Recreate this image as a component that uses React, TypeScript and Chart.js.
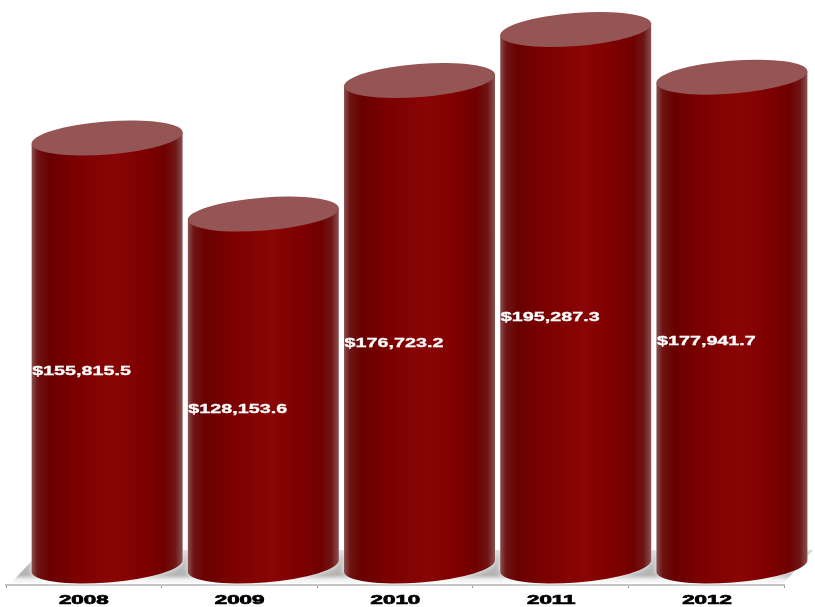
import React, { useEffect, useRef } from "react";
import { Chart, registerables } from "chart.js";

Chart.register(...registerables);

const categories = ["2008", "2009", "2010", "2011", "2012"];
const revenue = [155815.5, 128153.6, 176723.2, 195287.3, 177941.7];
const valueLabels = ["$155,815.5", "$128,153.6", "$176,723.2", "$195,287.3", "$177,941.7"];

const DEPTH_X = 23.3;
const DEPTH_Y = 19;
const FONT = '"Liberation Sans"';

function stretchedText(ctx: CanvasRenderingContext2D, text: string, x: number, y: number, sx: number, size: number, color: string, align: CanvasTextAlign, weight: number) {
  ctx.save();
  ctx.translate(x, y);
  ctx.scale(sx, 1);
  ctx.font = `bold ${size}px ${FONT}`;
  ctx.textAlign = align;
  ctx.textBaseline = "middle";
  ctx.fillStyle = color;
  ctx.strokeStyle = color;
  ctx.lineWidth = weight;
  ctx.strokeText(text, 0, 0);
  ctx.fillText(text, 0, 0);
  ctx.restore();
}

const floorPlugin = {
  id: "floor",
  beforeDatasetsDraw(chart: any) {
    const { ctx, chartArea: a } = chart;
    ctx.save();
    const g = ctx.createLinearGradient(0, a.bottom - 36, 0, a.bottom);
    g.addColorStop(0, "#d8d8d8");
    g.addColorStop(0.25, "#bcbcbc");
    g.addColorStop(0.72, "#b4b4b4");
    g.addColorStop(0.85, "#f0f0f0");
    g.addColorStop(1, "#ffffff");
    ctx.fillStyle = g;
    ctx.beginPath();
    ctx.moveTo(a.left + 5, a.bottom - 2);
    ctx.lineTo(a.right, a.bottom - 2);
    ctx.lineTo(a.right + 29, a.bottom - 35);
    ctx.lineTo(a.left + 36, a.bottom - 35);
    ctx.closePath();
    ctx.fill();
    ctx.restore();
  },
};

const cylinderPlugin = {
  id: "cylinders",
  afterDatasetsDraw(chart: any) {
    const { ctx } = chart;
    const meta = chart.getDatasetMeta(0);
    meta.data.forEach((bar: any, i: number) => {
      const w = bar.width;
      const cx = bar.x + DEPTH_X + i * 0.6;
      const topY = bar.y - DEPTH_Y + 0.5;
      const baseY = bar.base - DEPTH_Y;
      const left = cx - w / 2;
      const right = cx + w / 2;
      const rx = w / 2 + 0.3;
      const ry = 16.5;
      const rot = (-4.5 * Math.PI) / 180;
      const tilt = (w / 2) * Math.sin(rot);

      ctx.save();
      const g = ctx.createLinearGradient(left, 0, right, 0);
      g.addColorStop(0, "#8a5050");
      g.addColorStop(0.04, "#6e1414");
      g.addColorStop(0.12, "#6a0000");
      g.addColorStop(0.3, "#7c0000");
      g.addColorStop(0.55, "#8a0505");
      g.addColorStop(0.72, "#800000");
      g.addColorStop(0.88, "#700000");
      g.addColorStop(0.95, "#6e1414");
      g.addColorStop(1, "#8a5050");
      ctx.shadowColor = "rgba(255,255,255,0.95)";
      ctx.shadowBlur = 5;
      ctx.fillStyle = g;
      ctx.beginPath();
      ctx.moveTo(left, topY - tilt);
      ctx.lineTo(left, baseY - tilt);
      ctx.ellipse(cx, baseY, rx, ry, rot, Math.PI, 0, true);
      ctx.lineTo(right, topY + tilt);
      ctx.closePath();
      ctx.fill();
      ctx.shadowBlur = 0;
      ctx.shadowColor = "transparent";
      ctx.fillStyle = "#955555";
      ctx.beginPath();
      ctx.ellipse(cx, topY, rx, ry, rot, 0, Math.PI * 2);
      ctx.fill();
      ctx.restore();

      stretchedText(ctx, valueLabels[i], left + 0.5, (bar.y + bar.base) / 2 + 1, 1.52, 13, "#ffffff", "left", 0.3);
      stretchedText(ctx, categories[i], bar.x + i * 0.2, 600.5, 1.72, 13, "#000000", "center", 0.7);
    });
  },
};

export default function App() {
  const ref = useRef<HTMLCanvasElement>(null);
  useEffect(() => {
    document.body.style.margin = "0";
    const chart = new Chart(ref.current!, {
      type: "bar",
      data: {
        labels: categories,
        datasets: [
          {
            data: revenue,
            backgroundColor: "rgba(0,0,0,0)",
            barPercentage: 0.97,
            categoryPercentage: 1,
          },
        ],
      },
      options: {
        responsive: false,
        animation: false,
        layout: { padding: { left: 6, right: 31, top: 35, bottom: 19 } },
        plugins: { legend: { display: false }, tooltip: { enabled: false } },
        scales: {
          x: {
            grid: { drawOnChartArea: false, drawTicks: true, tickLength: 3, color: "#9a9a9a", offset: true },
            border: { color: "#c4c4c4", width: 2 },
            ticks: { display: false },
          },
          y: { display: false, min: 0, max: 200000 },
        },
      },
      plugins: [floorPlugin, cylinderPlugin],
    });
    return () => chart.destroy();
  }, []);
  return <canvas ref={ref} width={815} height={607} style={{ display: "block", filter: "blur(0.45px)" }} />;
}
